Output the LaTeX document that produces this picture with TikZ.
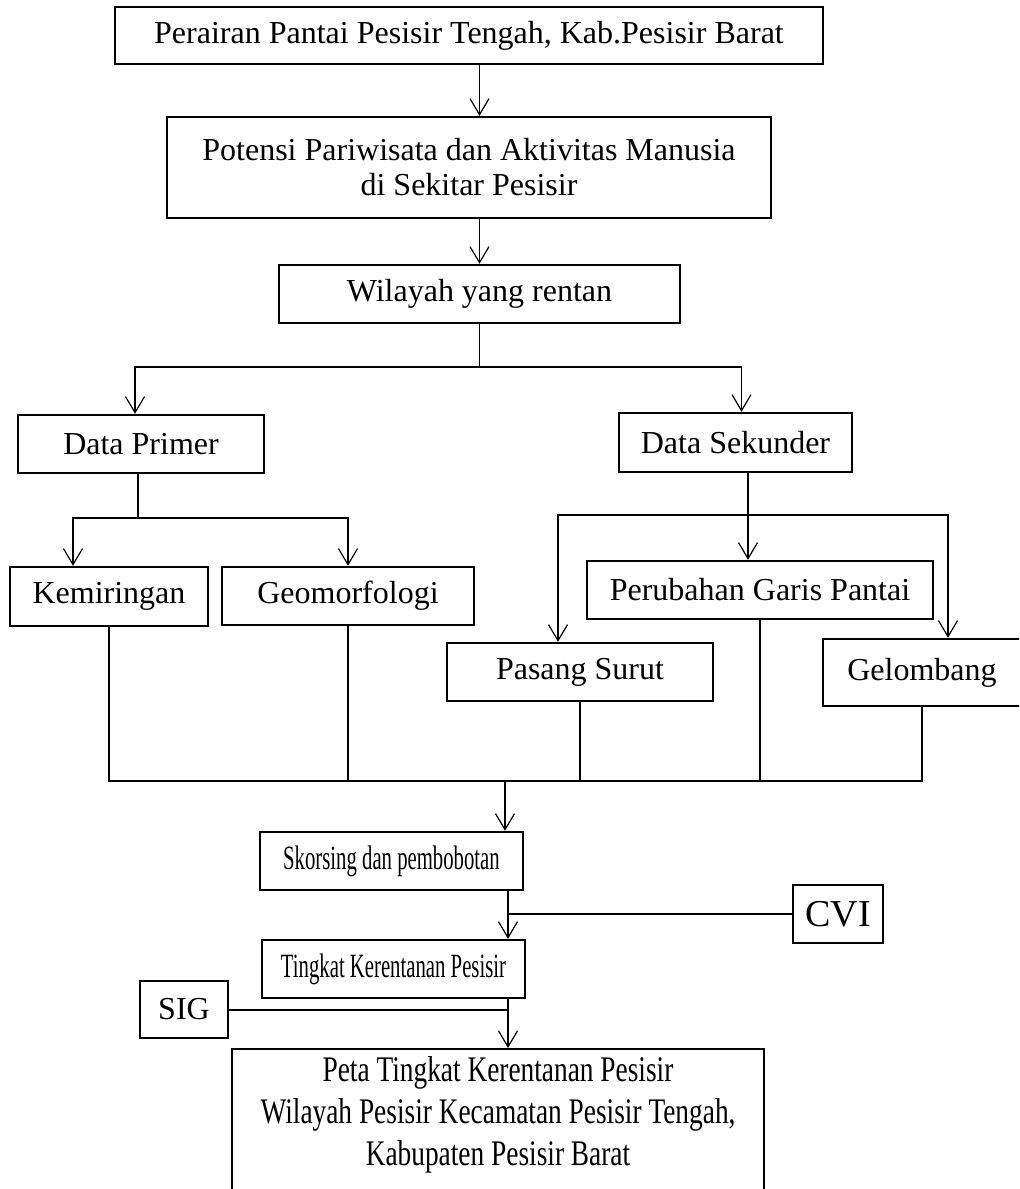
\documentclass[tikz,border=0pt]{standalone}
\usepackage{fontspec}
\setmainfont{Liberation Serif}
\newfontfamily\sempit[FakeStretch=0.61]{Liberation Serif}
\newfontfamily\sempitpeta[FakeStretch=0.76]{Liberation Serif}
\usetikzlibrary{arrows.meta}

\tikzset{
  kotak/.style={draw, line width=1.2pt, inner sep=0pt, align=center,
    font=\fontsize{16pt}{17.5pt}\selectfont},
  kotaksempit/.style={kotak, font=\fontsize{17pt}{19pt}\sempit},
  garis/.style={line width=0.8pt},
  panah/.style={-{Straight Barb[length=8pt,width=9.5pt]}, line width=0.6pt}
}

\begin{document}
\begin{tikzpicture}[x=0.5pt,y=-0.5pt]
        \useasboundingbox (0,0) rectangle (1019,1189);
        \clip (0,0) rectangle (1019,1189);
        % kotak atas
        \node [kotak, minimum width=354pt, minimum height=28.5pt] (perairan) at (469,35.5) {Perairan Pantai Pesisir Tengah, Kab.Pesisir Barat};
        \node [kotak, minimum width=302pt, minimum height=50.5pt] (potensi) at (469,167.5) {Potensi Pariwisata dan Aktivitas Manusia\\di Sekitar Pesisir};
        \node [kotak, minimum width=200.5pt, minimum height=29pt] (wilayah) at (479.5,294) {Wilayah yang rentan};
        % data
        \node [kotak, minimum width=123pt, minimum height=29pt] (primer) at (141,444) {Data Primer};
        \node [kotak, minimum width=116.5pt, minimum height=29.5pt] (sekunder) at (735.5,442.5) {Data Sekunder};
        \node [kotak, minimum width=99pt, minimum height=29.5pt] (kemiringan) at (109,596.5) {Kemiringan};
        \node [kotak, minimum width=126pt, minimum height=29pt] (geomorfologi) at (348,596) {Geomorfologi};
        \node [kotak, minimum width=173pt, minimum height=29pt] (perubahan) at (760,590) {Perubahan Garis Pantai};
        \node [kotak, minimum width=133pt, minimum height=29pt] (pasang) at (580,672) {Pasang Surut};
        \node [kotak, minimum width=99pt, minimum height=33.5pt] (gelombang) at (922,672.5) {Gelombang};
        % proses
        \node [kotaksempit, minimum width=131.5pt, minimum height=29pt] (skorsing) at (391.5,861) {Skorsing dan pembobotan};
        \node [kotaksempit, font=\fontsize{19pt}{21pt}\selectfont, minimum width=45pt, minimum height=29pt] (cvi) at (838,914) {CVI};
        \node [kotaksempit, minimum width=131.5pt, minimum height=29pt] (tingkat) at (393.5,969) {Tingkat Kerentanan Pesisir};
        \node [kotak, minimum width=44pt, minimum height=28.5pt] (sig) at (184,1009.5) {SIG};
        \node [kotak, anchor=north, minimum width=266pt, minimum height=100pt] (peta) at (498,1048) {};
        \node [align=center, inner sep=0pt, font=\fontsize{18pt}{21pt}\sempitpeta] (petateks) at (498,1115) {Peta Tingkat Kerentanan Pesisir\\Wilayah Pesisir Kecamatan Pesisir Tengah,\\Kabupaten Pesisir Barat};
        % titik cabang
        \coordinate (c1) at (479.5,367);
        \coordinate (c2) at (138,518);
        \coordinate (c3) at (748,515);
        \coordinate (kumpul) at (505,781);
        \coordinate (c4) at (508,913);
        % panah atas
        \draw [panah] (perairan.south -| wilayah) -- (potensi.north -| wilayah);
        \draw [panah] (potensi.south -| wilayah) -- (wilayah.north);
        \draw [garis] (wilayah.south) -- (c1);
        \draw [panah] (c1) -| ([xshift=-3pt]primer.north);
        \draw [panah] (c1) -| ([xshift=3pt]sekunder.north);
        % cabang data primer
        \draw [garis] (primer.south -| c2) -- (c2);
        \draw [panah] (c2) -| ([xshift=-18pt]kemiringan.north);
        \draw [panah] (c2) -| (geomorfologi.north);
        % cabang data sekunder
        \draw [garis] (sekunder.south -| c3) -- (c3);
        \draw [panah] (c3) -| ([xshift=-11pt]pasang.north);
        \draw [panah] (c3) -- (perubahan.north -| c3);
        \draw [panah] (c3) -| ([xshift=13pt]gelombang.north);
        % garis kumpul
        \draw [garis, line width=1pt] (kemiringan.south) -- (kemiringan.south |- kumpul) -- (gelombang.south |- kumpul) -- (gelombang.south);
        \foreach \n in {geomorfologi, pasang, perubahan}
            \draw [garis, line width=1pt] (\n.south) -- (\n.south |- kumpul);
        \draw [panah] (kumpul) -- (skorsing.north -| kumpul);
        % proses bawah
        \draw [panah] (skorsing.south -| c4) -- (tingkat.north -| c4);
        \draw [garis, line width=1pt] (cvi.west) -- (cvi.west -| c4);
        \draw [garis, line width=1pt] (sig.east) -- (sig.east -| c4);
        \draw [panah] (tingkat.south -| c4) -- (peta.north -| c4);
    \end{tikzpicture}
\end{document}
